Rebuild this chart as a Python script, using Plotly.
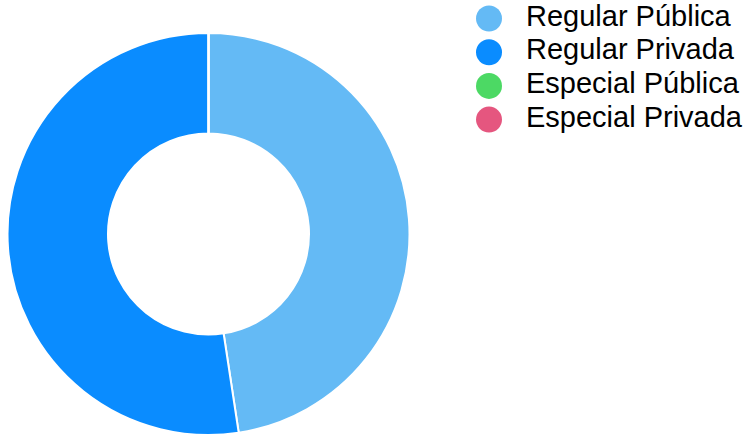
import plotly.graph_objects as go

# Matrículas por tipo de escola
categories = ["Regular Pública", "Regular Privada", "Especial Pública", "Especial Privada"]
values = [47.6, 52.4, 0, 0]
colors = ["#64baf5", "#0a8cff", "#4cd964", "#e5567f"]

W, H = 750, 437

fig = go.Figure()

fig.add_trace(go.Pie(
    labels=categories,
    values=values,
    hole=0.5,
    sort=False,
    direction="clockwise",
    rotation=0,
    marker=dict(colors=colors, line=dict(color="white", width=2)),
    textinfo="none",
    hoverinfo="label+percent",
    showlegend=False,
    domain=dict(x=[7 / W, 410 / W], y=[1 - 435 / H, 1 - 33 / H]),
))

# Legend drawn as a scatter in pixel coordinates: circle swatches plus labels
row_top, row_step = 18.5, 33.7
rows_y = [row_top + i * row_step for i in range(len(categories))]

fig.add_trace(go.Scatter(
    x=[489] * len(categories),
    y=rows_y,
    mode="markers",
    marker=dict(size=26, color=colors, symbol="circle", line=dict(width=0)),
    hoverinfo="skip",
    showlegend=False,
))
fig.add_trace(go.Scatter(
    x=[526] * len(categories),
    y=rows_y,
    mode="text",
    text=categories,
    textposition="middle right",
    textfont=dict(family="Liberation Sans, Arial, sans-serif", size=29, color="#000000"),
    hoverinfo="skip",
    showlegend=False,
))

fig.update_layout(
    width=W,
    height=H,
    margin=dict(l=0, r=0, t=0, b=0),
    paper_bgcolor="white",
    plot_bgcolor="rgba(0,0,0,0)",
    xaxis=dict(range=[0, W], visible=False, fixedrange=True),
    yaxis=dict(range=[H, 0], visible=False, fixedrange=True),
    font=dict(family="Liberation Sans, Arial, sans-serif"),
)

fig.write_html("out.html")
